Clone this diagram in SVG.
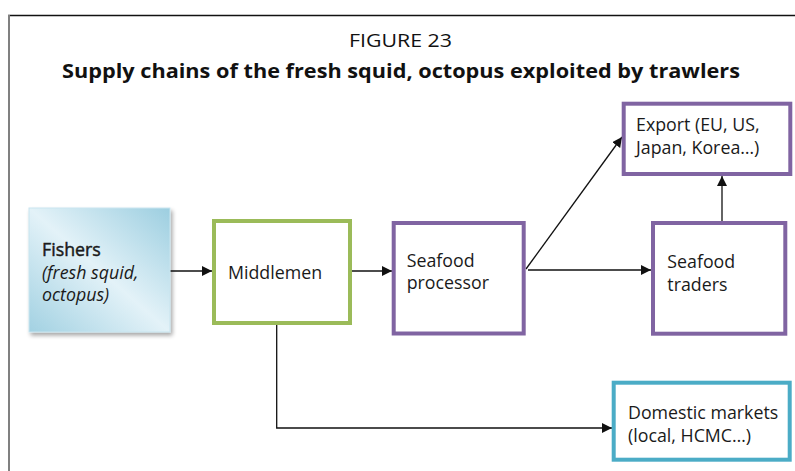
<svg xmlns="http://www.w3.org/2000/svg" width="795" height="471" viewBox="0 0 795 471">
  <style>
    .title { font-family: "Open Sans", "Liberation Sans", sans-serif; fill: #111; }
    .label { font-family: "Open Sans", "Liberation Sans", sans-serif; font-size: 17.8px; fill: #1a1a1a; }
    .heading { stroke: #1a1a1a; stroke-width: 0.45; }
    .box { fill: #ffffff; stroke-width: 4; }
    .green { stroke: #9bbb59; }
    .purple { stroke: #8064a2; }
    .blue { stroke: #4bacc6; }
    .link { fill: none; stroke: #111; stroke-width: 1.3; }
  </style>
  <defs>
    <marker id="arrow" viewBox="0 0 10 10" refX="10" refY="5" markerWidth="10" markerHeight="10" markerUnits="userSpaceOnUse" orient="auto">
      <path d="M0,0 L10,5 L0,10 Z" fill="#111"/>
    </marker>
    <linearGradient id="fishersFill" x1="0" y1="1" x2="1" y2="0">
      <stop offset="0" stop-color="#a2d1e2"/>
      <stop offset="0.5" stop-color="#e3f2f8"/>
      <stop offset="1" stop-color="#9ccee0"/>
    </linearGradient>
    <filter id="shadow" x="-10%" y="-10%" width="125%" height="125%">
      <feGaussianBlur in="SourceAlpha" stdDeviation="2"/>
      <feOffset dx="2" dy="3" result="blur"/>
      <feComponentTransfer><feFuncA type="linear" slope="0.35"/></feComponentTransfer>
      <feMerge><feMergeNode/><feMergeNode in="SourceGraphic"/></feMerge>
    </filter>
  </defs>

  <!-- frame -->
  <line x1="8" y1="15.5" x2="795" y2="15.5" stroke="#111" stroke-width="1.5"/>
  <line x1="9" y1="15" x2="9" y2="471" stroke="#808080" stroke-width="2"/>

  <!-- titles -->
  <text class="title" x="400.5" y="47" font-size="18.5" text-anchor="middle" textLength="103" lengthAdjust="spacingAndGlyphs">FIGURE 23</text>
  <text class="title" x="401" y="78" font-size="20" font-weight="bold" text-anchor="middle" textLength="678" lengthAdjust="spacingAndGlyphs">Supply chains of the fresh squid, octopus exploited by trawlers</text>

  <!-- connectors -->
  <g id="connectors">
    <line class="link" x1="170" y1="271" x2="212" y2="271" marker-end="url(#arrow)"/>
    <line class="link" x1="352" y1="271" x2="392" y2="271" marker-end="url(#arrow)"/>
    <line class="link" x1="528" y1="270" x2="651" y2="270" marker-end="url(#arrow)"/>
    <line class="link" x1="526" y1="269" x2="622" y2="137" marker-end="url(#arrow)"/>
    <line class="link" x1="722" y1="221" x2="722" y2="176" marker-end="url(#arrow)"/>
    <polyline class="link" points="276.7,325 276.7,428 612,428" marker-end="url(#arrow)"/>
  </g>

  <!-- nodes -->
  <g id="fishers">
    <rect x="29" y="208" width="141" height="124" fill="url(#fishersFill)" stroke="#c9e5ef" stroke-width="1" filter="url(#shadow)"/>
    <text class="label heading" x="42" y="256" font-size="19">Fishers</text>
    <text class="label" x="42" y="278.5" font-style="italic">(fresh squid,</text>
    <text class="label" x="42" y="300.5" font-style="italic">octopus)</text>
  </g>

  <g id="middlemen">
    <rect class="box green" x="214" y="221" width="136" height="102"/>
    <text class="label" x="228" y="278.5">Middlemen</text>
  </g>

  <g id="processor">
    <rect class="box purple" x="393.7" y="223" width="130" height="110.5"/>
    <text class="label" x="406.7" y="266.7">Seafood</text>
    <text class="label" x="406.7" y="289">processor</text>
  </g>

  <g id="traders">
    <rect class="box purple" x="653" y="223" width="132.3" height="110.7"/>
    <text class="label" x="667.3" y="268">Seafood</text>
    <text class="label" x="667.3" y="291">traders</text>
  </g>

  <g id="export">
    <rect class="box purple" x="623.7" y="103.7" width="166.6" height="70.3"/>
    <text class="label" x="636" y="131">Export (EU, US,</text>
    <text class="label" x="636" y="153.5">Japan, Korea…)</text>
  </g>

  <g id="domestic">
    <rect class="box blue" x="613.7" y="382.7" width="176" height="77"/>
    <text class="label" x="628" y="418.5">Domestic markets</text>
    <text class="label" x="628" y="442">(local, HCMC…)</text>
  </g>
</svg>
